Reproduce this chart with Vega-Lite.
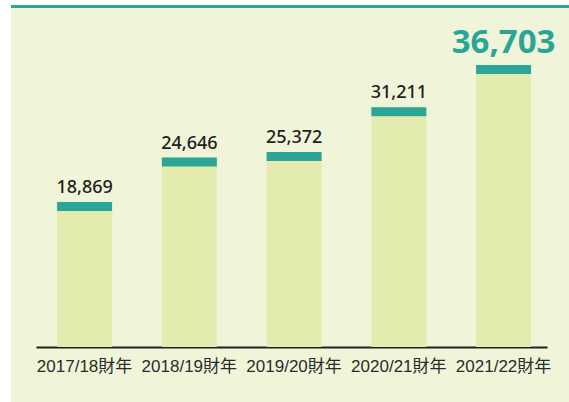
{
  "$schema": "https://vega.github.io/schema/vega-lite/v6.json",
  "autosize": {"type": "none"},
  "padding": {"left": 11, "top": 5, "right": 0, "bottom": 0},
  "width": 558,
  "height": 397,
  "background": "#ffffff",
  "config": {"view": {"stroke": null, "fill": "#f0f5da"}},
  "data": {"values": [
    {"year": "2017/18財年", "value": 18869},
    {"year": "2018/19財年", "value": 24646},
    {"year": "2019/20財年", "value": 25372},
    {"year": "2020/21財年", "value": 31211},
    {"year": "2021/22財年", "value": 36703}
  ]},
  "encoding": {
    "x": {
      "field": "year", "type": "nominal", "sort": null,
      "scale": {"range": [25, 536], "paddingInner": 0.475, "paddingOuter": 0.1766, "align": 0.57},
      "axis": {
        "orient": "bottom", "offset": -55, "title": null, "labelAngle": 0,
        "domain": true, "domainColor": "#231f20", "domainWidth": 2,
        "ticks": false, "labelPadding": 11,
        "labelFont": "Liberation Sans, Noto Sans CJK TC", "labelFontSize": 17,
        "labelColor": "#2b2b2b"
      }
    }
  },
  "layer": [
    {
      "mark": {"type": "rule", "color": "#2aa596", "strokeWidth": 3, "yOffset": 1.5},
      "encoding": {
        "x": null,
        "y": {"datum": 44510, "type": "quantitative", "scale": {"domain": [-7160, 44510], "nice": false, "zero": false}, "axis": null}
      }
    },
    {
      "mark": {"type": "bar", "color": "#e3ecae"},
      "encoding": {
        "y": {"field": "value", "type": "quantitative", "axis": null},
        "y2": {"datum": 0}
      }
    },
    {
      "mark": {"type": "bar", "color": "#2aa596", "y2Offset": 9},
      "encoding": {
        "y": {"field": "value", "type": "quantitative", "axis": null},
        "y2": {"field": "value"}
      }
    },
    {
      "transform": [{"filter": "datum.year != '2021/22財年'"}],
      "mark": {"type": "text", "baseline": "alphabetic", "dy": -9, "font": "Noto Sans", "fontSize": 18, "fontWeight": 500, "color": "#231f20"},
      "encoding": {
        "y": {"field": "value", "type": "quantitative", "axis": null},
        "text": {"field": "value", "type": "quantitative", "format": ",d"}
      }
    },
    {
      "transform": [{"filter": "datum.year == '2021/22財年'"}],
      "mark": {"type": "text", "baseline": "alphabetic", "dy": -12, "font": "Noto Sans", "fontSize": 33, "fontWeight": "bold", "color": "#2aa596"},
      "encoding": {
        "y": {"field": "value", "type": "quantitative", "axis": null},
        "text": {"field": "value", "type": "quantitative", "format": ",d"}
      }
    }
  ]
}
